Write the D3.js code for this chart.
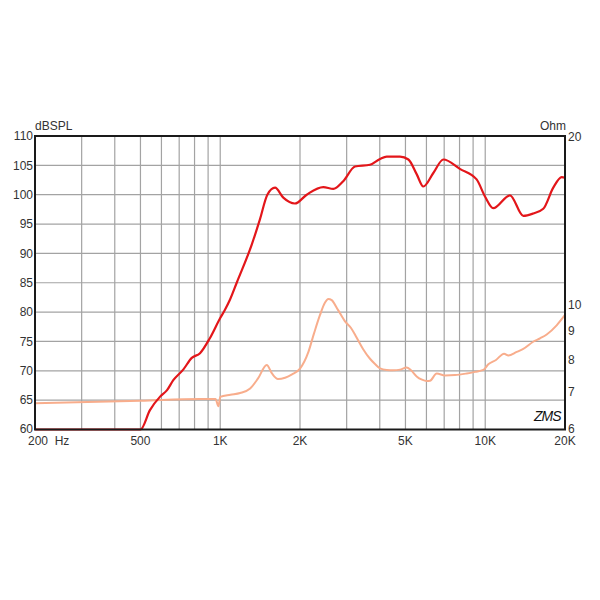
<!DOCTYPE html>
<html><head><meta charset="utf-8">
<script src="https://cdn.jsdelivr.net/npm/d3@7"></script>
<style>body{margin:0;background:#fff}svg{display:block}text{font-family:"Liberation Sans",Arial,sans-serif}</style>
</head><body>
<svg id="c" width="600" height="600"></svg>
<script>
// Frequency response (dB SPL)
const splFreq = [200,500,543,593,630,665,725,781,839,915,1000,1042,1088,1154,1315,1412,1506,1610,1730,1914,2120,2448,2672,2912,3226,3674,4009,4248,4770,5130,5511,5840,6370,6950,8020,9280,9980,10720,12400,13920,15170,16560,18060,19440,20000];
const splDb   = [60,60,63.3,65.6,66.7,68.4,70.2,72.2,73,75.6,79,80.4,82.1,85,91.5,95.8,100,101.2,99.5,98.5,100,101.3,101,102.3,104.8,105.1,106.1,106.5,106.5,106,103.5,101.4,103.7,106,104.4,102.6,99.7,97.7,99.9,96.4,96.8,97.6,101.2,103,102.9];
// Impedance (Ohm)
const impFreq = [200,500,839,915,960,985,1000,1093,1189,1297,1389,1498,1568,1652,1757,1866,2000,2150,2259,2380,2486,2558,2634,2782,2957,3116,3274,3458,3674,3838,4009,4248,4500,4770,5054,5248,5511,5775,6015,6190,6560,7052,7690,8512,9150,9840,10270,10980,11780,12220,13150,13920,15170,16100,17060,18600,20000];
const impOhm  = [6.68,6.75,6.8,6.8,6.8,6.6,6.86,6.92,6.97,7.1,7.4,7.82,7.55,7.38,7.42,7.52,7.7,8.24,8.9,9.6,10.1,10.25,10.2,9.8,9.35,9.1,8.74,8.35,8.02,7.85,7.71,7.66,7.65,7.67,7.74,7.65,7.46,7.36,7.32,7.33,7.55,7.49,7.5,7.55,7.6,7.66,7.84,7.98,8.19,8.13,8.25,8.35,8.6,8.72,8.86,9.2,9.6];
const xTickVals = [200,500,1000,2000,5000,10000,20000];
const xTickLabels = ["200  Hz","500","1K","2K","5K","10K","20K"];
const xGrid = [300,400,500,600,700,800,900,1000,2000,3000,4000,5000,6000,7000,8000,9000,10000];
const yTicks = [60,65,70,75,80,85,90,95,100,105,110];
const zTicks = [6,7,8,9,10,20];

const L=35,R=565,T=136,B=429.5;
const svg=d3.select("#c");
const x=d3.scaleLog().domain([200,20000]).range([L,R]);
const y=d3.scaleLinear().domain([60,110]).range([B,T]);
const z=d3.scaleLog().domain([6,20]).range([B,T]);

const grid=svg.append("g").attr("stroke","#a3a3a3").attr("stroke-width",1.2);
xGrid.forEach(f=>grid.append("line").attr("x1",x(f)).attr("x2",x(f)).attr("y1",T).attr("y2",B));
yTicks.slice(1,-1).forEach(v=>grid.append("line").attr("x1",L).attr("x2",R).attr("y1",y(v)).attr("y2",y(v)));

const lineImp=d3.line().x((d,i)=>x(impFreq[i])).y(d=>z(d)).curve(d3.curveMonotoneX);
svg.append("path").attr("d",lineImp(impOhm)).attr("fill","none").attr("stroke","#f8ad8c").attr("stroke-width",2);
const lineSpl=d3.line().x((d,i)=>x(splFreq[i])).y(d=>y(d)).curve(d3.curveMonotoneX);
svg.append("path").attr("d",lineSpl(splDb)).attr("fill","none").attr("stroke","#e3161a").attr("stroke-width",2.2);

svg.append("rect").attr("x",L).attr("y",T).attr("width",R-L).attr("height",B-T).attr("fill","none").attr("stroke","#1a1a1a").attr("stroke-width",2);

const lab=svg.append("g").attr("fill","#333").attr("font-size",12);
yTicks.forEach(v=>lab.append("text").attr("x",33).attr("y",y(v)+(v===60?3:4.3)).attr("text-anchor","end").text(v));
zTicks.forEach(v=>lab.append("text").attr("x",568).attr("y",z(v)+(v===20?5:(v===6?3:4.3))).attr("text-anchor","start").text(v));
xTickVals.forEach((f,i)=>{
  lab.append("text").attr("x",i===0?28:x(f)).attr("y",445).attr("text-anchor",i===0?"start":"middle").style("white-space","pre").text(xTickLabels[i]);
});
lab.append("text").attr("x",35).attr("y",130).text("dBSPL");
lab.append("text").attr("x",566).attr("y",130).attr("text-anchor","end").text("Ohm");
svg.append("text").attr("x",534).attr("y",421).attr("font-size",14).attr("font-style","italic").attr("font-family","DejaVu Serif,serif").attr("fill","#111").attr("letter-spacing","-1").text("ZMS");
</script>
</body></html>
